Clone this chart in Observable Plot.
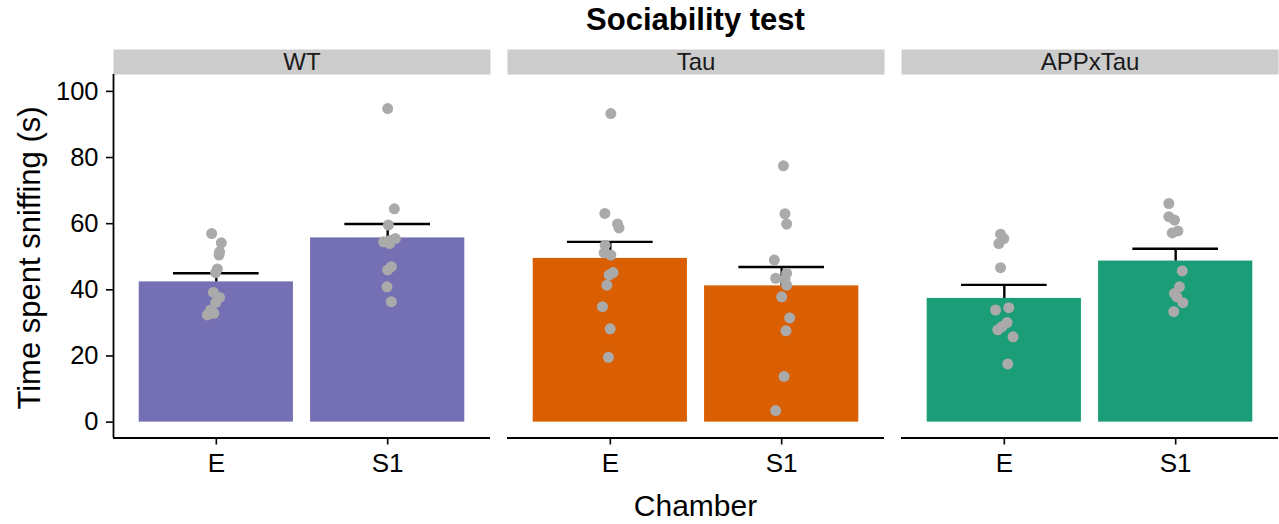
<!DOCTYPE html>
<html>
<head>
<meta charset="utf-8">
<script src="https://cdn.jsdelivr.net/npm/d3@7"></script>
<script src="https://cdn.jsdelivr.net/npm/@observablehq/plot@0.6"></script>
<style>
  body { margin: 0; background: #fff; }
  #wrap { position: relative; width: 1279px; height: 524px; font-family: "Liberation Sans", Arial, sans-serif; color: #000; background: #fff; }
  #chart { position: absolute; top: 40px; left: 0; z-index: 1; }
  #title { position: absolute; top: 0px; left: 112px; width: 1167px; text-align: center; font-weight: bold; font-size: 31px; line-height: 40px; z-index: 2; }
  #xlab { position: absolute; top: 490px; left: 112px; width: 1167px; text-align: center; font-size: 30px; line-height: 32px; z-index: 2; }
  #ylab { position: absolute; left: -170px; top: 241.5px; width: 400px; height: 32px; text-align: center; font-size: 31px; line-height: 32px; transform: rotate(-90deg); transform-origin: center; z-index: 2; }
</style>
</head>
<body>
<div id="wrap">
  <div id="chart"></div>
  <div id="title">Sociability test</div>
  <div id="ylab">Time spent sniffing (s)</div>
  <div id="xlab">Chamber</div>
</div>
<script>
// ---- data ----
const groups = ["WT", "Tau", "APPxTau"];
const chambers = ["E", "S1"];
const groupColors = ["#7570B3", "#D95F02", "#1B9E77"];

const meanE  = [42.4, 49.5, 37.4];
const meanS1 = [55.7, 41.2, 48.7];
const upperE  = [45.0, 54.5, 41.5];
const upperS1 = [59.9, 46.9, 52.4];

const wtE   = [57.0, 54.2, 51.5, 50.5, 46.3, 45.2, 39.2, 37.7, 36.1, 33.9, 32.4, 32.9];
const wtEJitter = [-0.027, 0.029, 0.019, 0.016, 0.006, -0.004, -0.017, 0.019, -0.004, -0.033, -0.052, -0.014];
const wtS1  = [94.8, 64.5, 59.6, 55.5, 54.5, 54.0, 55.0, 47.0, 46.0, 40.9, 36.4];
const wtS1Jitter = [0.0, 0.039, 0.004, 0.045, -0.023, 0.012, 0.016, 0.021, 0.0, -0.004, 0.021];
const tauE  = [93.3, 63.1, 59.9, 58.7, 53.5, 51.2, 50.5, 45.2, 44.5, 41.4, 34.9, 28.2, 19.6];
const tauEJitter = [0.003, -0.032, 0.042, 0.051, -0.030, -0.036, 0.003, 0.016, -0.007, -0.020, -0.046, -0.001, -0.011];
const tauS1 = [77.5, 63.0, 59.9, 49.0, 45.0, 43.5, 43.2, 41.4, 37.9, 31.5, 27.6, 13.8, 3.5];
const tauS1Jitter = [0.010, 0.019, 0.029, -0.043, 0.029, -0.035, 0.019, 0.029, 0.0, 0.047, 0.025, 0.014, -0.035];
const appE  = [56.8, 55.5, 54.0, 46.7, 34.6, 33.9, 30.1, 28.9, 27.9, 25.8, 17.6];
const appEJitter = [-0.022, -0.003, -0.032, -0.022, 0.026, -0.051, 0.016, -0.013, -0.038, 0.051, 0.020];
const appS1 = [66.1, 62.1, 61.1, 57.8, 57.2, 45.7, 40.9, 38.9, 37.9, 36.1, 33.4];
const appS1Jitter = [-0.040, -0.040, -0.007, 0.013, -0.020, 0.038, 0.022, -0.007, 0.007, 0.042, -0.011];

const yTicks = [0, 20, 40, 60, 80, 100];
const yDomain = [-4.8, 105.1];
const xDomain = [0.4, 2.6];

// ---- tables built from the arrays ----
const bars = [];
groups.forEach((g, i) => {
  bars.push({group: g, pos: 1, mean: meanE[i], upper: upperE[i]});
  bars.push({group: g, pos: 2, mean: meanS1[i], upper: upperS1[i]});
});
const pointSets = [
  ["WT", 1, wtE, wtEJitter], ["WT", 2, wtS1, wtS1Jitter],
  ["Tau", 1, tauE, tauEJitter], ["Tau", 2, tauS1, tauS1Jitter],
  ["APPxTau", 1, appE, appEJitter], ["APPxTau", 2, appS1, appS1Jitter]
];
const points = [];
for (const [g, pos, vals, jit] of pointSets) {
  vals.forEach((v, k) => points.push({group: g, pos, value: v, jit: jit[k]}));
}

const barHalf = 0.45, capHalf = 0.25;
const H = 440, mTop = 34, mBottom = 42.5;

const chart = Plot.plot({
  width: 1279,
  height: H,
  marginLeft: 112,
  marginRight: 0,
  marginTop: mTop,
  marginBottom: mBottom,
  style: {fontFamily: "'Liberation Sans', Arial, sans-serif", fontSize: "25px", color: "#000", background: "#fff"},
  fx: {domain: groups, paddingInner: 0.042, paddingOuter: 0, label: null},
  x: {domain: xDomain},
  y: {domain: yDomain},
  color: {domain: groups, range: groupColors},
  marks: [
    Plot.frame({fill: "#cccccc", stroke: null, insetTop: -25, insetBottom: H - mTop - mBottom}),
    Plot.axisFx({anchor: "top", tickSize: 0, tickPadding: 4.5, fontSize: 24, label: null, fill: "#1a1a1a"}),
    Plot.rect(bars, {fx: "group", x1: d => d.pos - barHalf, x2: d => d.pos + barHalf, y1: () => 0, y2: "mean", fill: "group"}),
    Plot.ruleX(bars, {fx: "group", x: "pos", y1: "mean", y2: "upper", stroke: "#000", strokeWidth: 2.4}),
    Plot.ruleY(bars, {fx: "group", y: "upper", x1: d => d.pos - capHalf, x2: d => d.pos + capHalf, stroke: "#000", strokeWidth: 2.4}),
    Plot.dot(points, {fx: "group", x: d => d.pos + d.jit, y: "value", r: 5.5, fill: "#aaaaaa", stroke: null}),
    Plot.ruleY([yDomain[0]], {stroke: "#000", strokeWidth: 1.8}),
    Plot.ruleX([groups[0]], {fx: d => d, x: () => xDomain[0], stroke: "#000", strokeWidth: 1.8}),
    Plot.axisY({ticks: yTicks, tickSize: 7, tickPadding: 8, fontSize: 25.5, label: null, strokeWidth: 1.6}),
    Plot.axisX({ticks: [1, 2], tickFormat: i => chambers[i - 1], tickSize: 7, tickPadding: 8.5, fontSize: 26, label: null, strokeWidth: 1.6})
  ]
});
document.getElementById("chart").appendChild(chart);
</script>
</body>
</html>
